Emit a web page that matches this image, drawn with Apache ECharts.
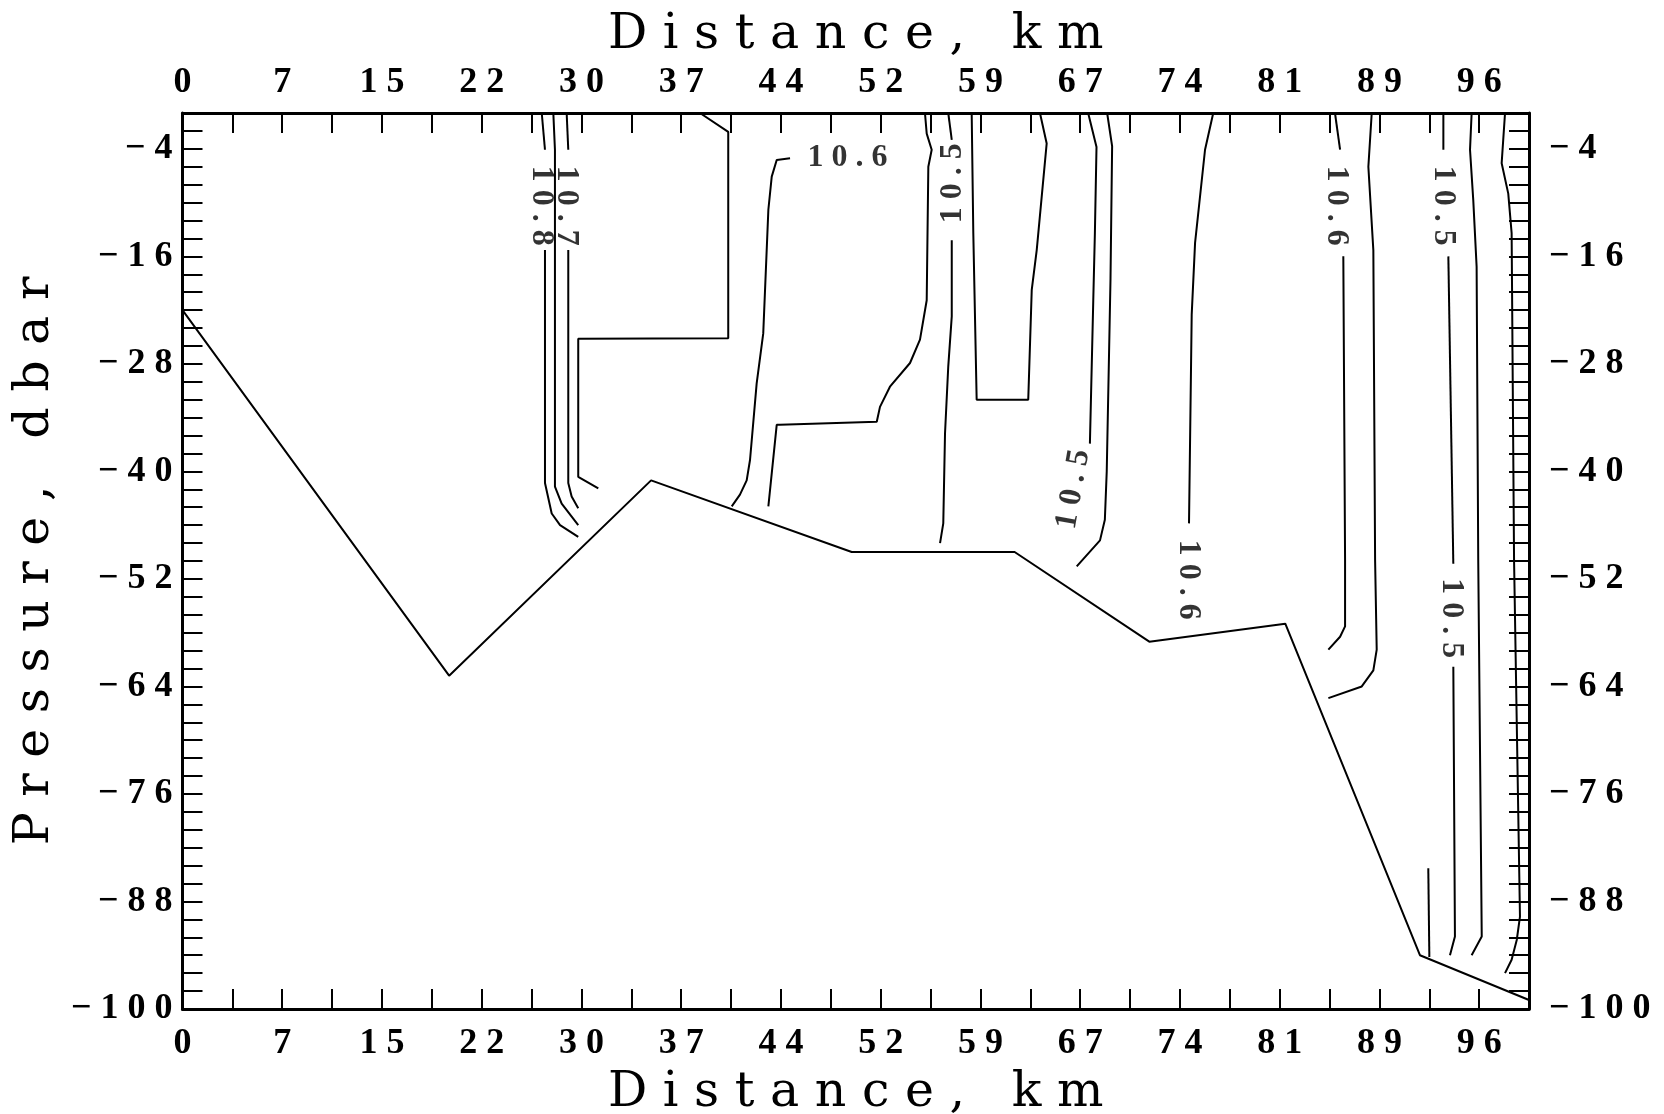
<!DOCTYPE html>
<html>
<head>
<meta charset="utf-8">
<title>Distance / Pressure section</title>
<script src="https://cdn.jsdelivr.net/npm/echarts@6/dist/echarts.min.js"></script>
<style>
  html, body { margin: 0; padding: 0; background: #fff; }
  #chart { width: 1664px; height: 1114px; }
</style>
</head>
<body>
<div id="chart"></div>
<script>
// axis ticks: 0..100 km cut in 27 steps, every other one labelled
const xTickLabels = ['0', '7', '15', '22', '30', '37', '44', '52', '59', '67', '74', '81', '89', '96'];
const yTickValues = [-100, -88, -76, -64, -52, -40, -28, -16, -4];
const yTickLabels = ['-100', '-88', '-76', '-64', '-52', '-40', '-28', '-16', '-4'];

// bottom profile [distance km, pressure dbar]
const bottomLine = [[0, -22], [19.8, -62.8], [34.8, -41], [49.7, -49], [61.8, -49], [71.8, -59], [81.9, -57], [91.9, -94], [100, -99]];

// contour pieces, split where a label sits on the line
const c108Top = [[26.68, 0], [26.92, -4.1]];
const c108Low = [[26.92, -15.3], [26.92, -41.3], [27.42, -44.7], [28.04, -46.0], [29.39, -47.3]];
const c1075 = [[27.54, 0], [27.66, -4.1], [27.66, -41.7], [28.16, -43.6], [29.39, -46.0]];
const c107Top = [[28.53, 0], [28.65, -4.1]];
const c107Low = [[28.65, -15.3], [28.65, -41.3], [28.9, -42.8], [29.39, -44.1]];
const cStep = [[38.43, 0], [40.53, -2.1], [40.53, -25.15], [29.39, -25.2], [29.39, -40.6], [30.88, -41.9]];
const c106a = [[45.12, -5.06], [44.13, -5.25], [43.76, -7.1], [43.51, -10.8], [43.13, -24.6], [42.64, -30.2], [42.15, -38.7], [41.9, -41.0], [41.4, -42.6], [40.79, -43.9]];
const cShelf = [[43.51, -43.9], [44.13, -34.8], [44.37, -34.8], [51.56, -34.45], [51.8, -32.8], [52.54, -30.55], [54.03, -27.9], [54.77, -25.3], [55.27, -20.9], [55.39, -6.0], [55.64, -4.1], [55.27, -2.3], [55.14, 0]];
const c105aTop = [[56.87, 0], [57.13, -3.0]];
const c105aLow = [[57.13, -14.2], [57.13, -22.7], [56.87, -28.3], [56.63, -35.75], [56.5, -45.8], [56.26, -48.0]];
const cBox = [[58.61, 0], [58.73, -13.4], [58.98, -32.0], [62.81, -32.0], [63.07, -19.75], [63.44, -15.3], [64.18, -3.4], [63.68, 0]];
const c105b = [[67.26, 0], [67.88, -3.8], [67.76, -13.4], [67.64, -20.9], [67.39, -36.9]];
const cNear105b = [[68.67, 0], [69.04, -3.7], [68.92, -18.5], [68.64, -40], [68.5, -45.4], [68.14, -47.7], [66.41, -50.6]];
const c106b = [[76.55, 0], [75.94, -4.1], [75.2, -14.5], [74.95, -22.5], [74.75, -45.8]];
const c106cTop = [[85.59, 0], [85.97, -4.1]];
const c106cLow = [[86.21, -16.0], [86.34, -49.9], [86.34, -57.3], [85.97, -58.45], [85.1, -59.9]];
const c89 = [[88.32, 0], [88.07, -6.0], [88.44, -15.3], [88.57, -49.9], [88.69, -59.9], [88.44, -62.2], [87.58, -64.0], [85.1, -65.3]];
const c105cTop = [[93.64, 0], [93.64, -4.1]];
const c105cMid = [[94.01, -16.0], [94.38, -50.3]];
const c105cLow = [[94.38, -61.8], [94.5, -91.9], [94.13, -94.0]];
const c97 = [[95.74, 0], [95.62, -4.1], [95.86, -9.7], [96.11, -17.15], [96.23, -49.9], [96.49, -91.9], [95.74, -94.0]];
const cEdge = [[98.22, 0], [97.97, -5.6], [98.46, -9.0], [98.71, -13.4], [98.89, -49.9], [99.33, -89.7], [99.09, -92.3], [98.71, -94.5], [98.22, -96.0]];
const cStub = [[92.52, -84.3], [92.6, -94.2]];

const contourPieces = [c108Top, c108Low, c1075, c107Top, c107Low, cStep, c106a, cShelf, c105aTop, c105aLow,
  cBox, c105b, cNear105b, c106b, c106cTop, c106cLow, c89, c105cTop, c105cMid, c105cLow, c97, cEdge, cStub];

// contour labels
const labelText = ['10.8', '10.7', '10.6', '10.5', '10.5', '10.6', '10.6', '10.5', '10.5'];
const labelDist = [26.68, 28.5, 49.39, 57.22, 66.16, 74.7, 85.72, 93.64, 94.26];
const labelPres = [-10.36, -10.36, -4.95, -7.85, -42.0, -52.1, -10.35, -10.35, -56.4];
const labelTurn = [-90, -90, 0, 90, 80, -90, -90, -90, -90];

const xStep = 100 / 27;
const spread = (s, gap) => s.split('').join(gap);

function xLabel(v) {
  const k = Math.round(v / xStep);
  if (Math.abs(v - k * xStep) > 1e-6 || k % 2) return '';
  const t = xTickLabels[k / 2];
  return t === undefined ? '' : spread(t, ' ');
}
function yLabel(v) {
  const i = yTickValues.findIndex(t => Math.abs(t - v) < 1e-6);
  return i < 0 ? '' : spread(yTickLabels[i].replace('-', '\u2212'), ' ');
}

const black = '#000';
const tickFont = { fontFamily: 'Liberation Serif', fontSize: 36, fontWeight: 'bold', color: black };
const nameFont = { fontFamily: 'DejaVu Serif', fontSize: 49, color: black };

function xAxisDef(position) {
  const top = position === 'top';
  return {
    type: 'value', position: position, min: 0, max: 100, interval: xStep,
    axisLine: { show: true, onZero: false, lineStyle: { color: black, width: 3 } },
    axisTick: { show: true, inside: true, length: 20, lineStyle: { color: black, width: 2 } },
    axisLabel: Object.assign({ margin: top ? 12 : 17, formatter: xLabel }, tickFont),
    splitLine: { show: false },
    name: spread('Distance, km', ' '), nameLocation: 'middle', nameGap: top ? 47 : 60,
    nameTextStyle: nameFont
  };
}
function yAxisDef(position, withName) {
  const ax = {
    type: 'value', position: position, min: -100, max: 0, interval: 2,
    axisLine: { show: true, onZero: false, lineStyle: { color: black, width: 3 } },
    axisTick: { show: true, inside: true, length: 20, lineStyle: { color: black, width: 2 } },
    axisLabel: Object.assign({ margin: position === 'left' ? 10 : 20, formatter: yLabel }, tickFont),
    splitLine: { show: false }
  };
  if (withName) {
    ax.name = spread('Pressure, dbar', ' ');
    ax.nameLocation = 'middle';
    ax.nameGap = 112;
    ax.nameTextStyle = nameFont;
  }
  return ax;
}

const lineStyle = { color: black, width: 2 };
const series = [{
  type: 'line', data: bottomLine, symbol: 'none', lineStyle: lineStyle, silent: true
}];
contourPieces.forEach(function (piece) {
  series.push({ type: 'line', data: piece, symbol: 'none', lineStyle: lineStyle, silent: true });
});
series.push({
  type: 'scatter', symbolSize: 1, silent: true,
  itemStyle: { color: 'rgba(0,0,0,0)' },
  data: labelText.map(function (t, i) {
    return { name: t, value: [labelDist[i], labelPres[i]], label: { rotate: labelTurn[i] } };
  }),
  label: {
    show: true, position: 'inside', color: black, textBorderWidth: 0,
    fontFamily: 'Liberation Serif', fontSize: 32, fontWeight: 'bold',
    formatter: function (p) { return spread(p.name, ' '); }
  }
});

const chart = echarts.init(document.getElementById('chart'));
chart.setOption({
  animation: false,
  backgroundColor: '#fff',
  grid: { left: 182.5, right: 135, top: 113, bottom: 105, outerBoundsMode: 'none' },
  xAxis: [xAxisDef('bottom'), xAxisDef('top')],
  yAxis: [yAxisDef('left', true), yAxisDef('right', false)],
  series: series
});
</script>
</body>
</html>
